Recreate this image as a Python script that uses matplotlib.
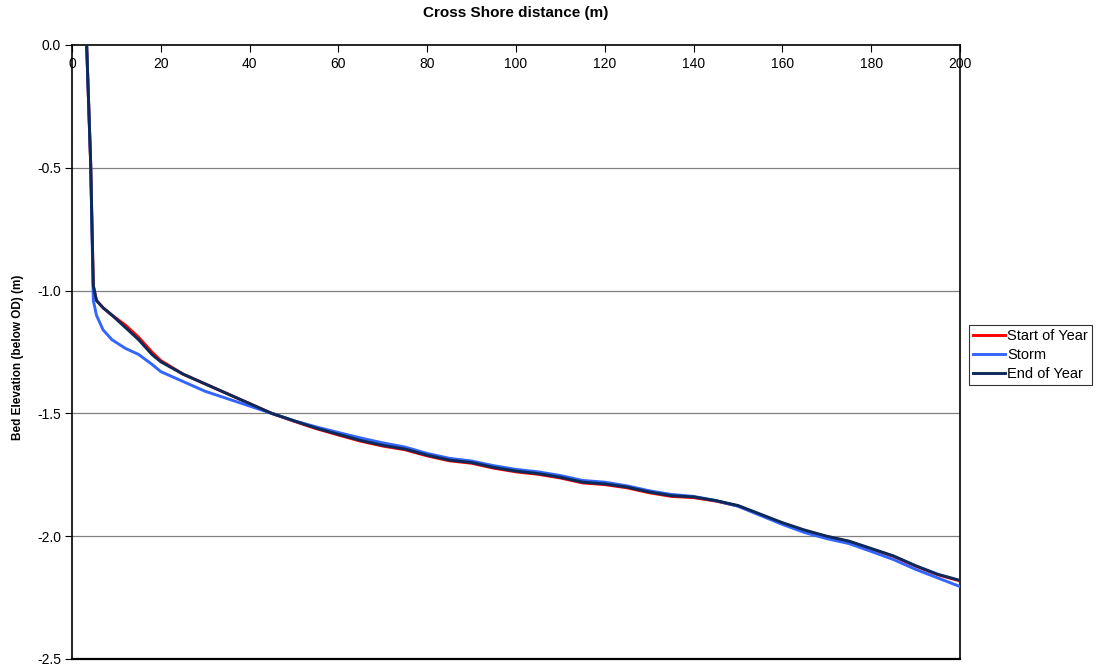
import matplotlib
matplotlib.use("Agg")
import matplotlib.pyplot as plt

plt.rcParams['font.family'] = ['Liberation Sans', 'DejaVu Sans']

# Cross-shore distance (m)
distance = [3.3, 4.2, 4.8, 5.5, 7, 9, 12, 15, 18, 20, 25, 30, 35, 40, 45, 50, 55,
            60, 65, 70, 75, 80, 85, 90, 95, 100, 105, 110, 115, 120, 125, 130,
            135, 140, 145, 150, 155, 160, 165, 170, 175, 180, 185, 190, 195, 200]

start_of_year = [0.0, -0.48, -0.98, -1.04, -1.07, -1.10, -1.14, -1.19, -1.25, -1.285,
                 -1.34, -1.38, -1.42, -1.46, -1.50, -1.532, -1.562, -1.588, -1.613,
                 -1.633, -1.648, -1.673, -1.693, -1.703, -1.723, -1.738, -1.748,
                 -1.763, -1.783, -1.790, -1.803, -1.823, -1.838, -1.843, -1.857,
                 -1.877, -1.912, -1.947, -1.977, -2.002, -2.022, -2.052, -2.082,
                 -2.122, -2.157, -2.182]

storm = [0.0, -0.48, -1.04, -1.10, -1.16, -1.20, -1.235, -1.26, -1.30, -1.33,
         -1.37, -1.41, -1.44, -1.47, -1.50, -1.53, -1.555, -1.578, -1.60, -1.62,
         -1.637, -1.663, -1.683, -1.694, -1.713, -1.728, -1.738, -1.753, -1.773,
         -1.780, -1.795, -1.815, -1.83, -1.838, -1.855, -1.878, -1.915, -1.952,
         -1.985, -2.01, -2.03, -2.062, -2.095, -2.135, -2.17, -2.205]

end_of_year = [0.0, -0.48, -0.98, -1.04, -1.07, -1.10, -1.15, -1.20, -1.26, -1.29,
               -1.34, -1.38, -1.42, -1.46, -1.50, -1.53, -1.56, -1.585, -1.61,
               -1.63, -1.645, -1.67, -1.69, -1.70, -1.72, -1.735, -1.745, -1.76,
               -1.78, -1.787, -1.80, -1.82, -1.835, -1.84, -1.855, -1.875, -1.91,
               -1.945, -1.975, -2.00, -2.02, -2.05, -2.08, -2.12, -2.155, -2.18]

x_ticks = [0, 20, 40, 60, 80, 100, 120, 140, 160, 180, 200]
y_ticks = [0.0, -0.5, -1.0, -1.5, -2.0, -2.5]

fig = plt.figure(figsize=(10.99, 6.68), dpi=100)
ax = fig.add_axes([72 / 1099, 1 - 659 / 668, (960 - 72) / 1099, (659 - 45) / 668])

ax.plot(distance, start_of_year, color='#FF0000', lw=2.1, label='Start of Year', zorder=3)
ax.plot(distance, storm, color='#3366FF', lw=2.1, label='Storm', zorder=4)
ax.plot(distance, end_of_year, color='#0B2A5A', lw=2.1, label='End of Year', zorder=5)

ax.set_xlim(0, 200)
ax.set_ylim(-2.5, 0.0)
ax.set_xticks(x_ticks)
ax.set_yticks(y_ticks)
ax.set_yticklabels([f"{v:.1f}" for v in y_ticks])
ax.set_xticklabels([str(v) for v in x_ticks])

# x axis drawn at y=0 (top), labels inside the plot
ax.spines['bottom'].set_position(('data', 0))
ax.spines['bottom'].set_linewidth(1.2)
ax.spines['top'].set_visible(False)
ax.spines['left'].set_linewidth(1.2)
ax.spines['right'].set_linewidth(1.2)
ax.axhline(-2.5, color='black', lw=1.6, zorder=6, clip_on=False)

ax.tick_params(axis='x', direction='out', length=5, width=0.8, labelsize=10, pad=4)
ax.tick_params(axis='y', direction='out', length=5, width=0.8, labelsize=10, pad=3)

for yv in [-0.5, -1.0, -1.5, -2.0]:
    ax.axhline(yv, color='#808080', lw=0.9, zorder=1)

fig.text(516 / 1099, 1 - 13 / 668, 'Cross Shore distance (m)', ha='center', va='center',
         fontsize=11, fontweight='bold')
fig.text(18 / 1099, 1 - 357 / 668, 'Bed Elevation (below OD) (m)', ha='center', va='center',
         rotation=90, fontsize=8.5, fontweight='bold')

leg = fig.legend(loc='center left', bbox_to_anchor=(969 / 1099, 1 - 355 / 668),
                 fontsize=10.5, frameon=True, fancybox=False, handlelength=2.2,
                 handletextpad=0.1, borderpad=0.3, labelspacing=0.35, borderaxespad=0)
leg.get_frame().set_edgecolor('black')
leg.get_frame().set_linewidth(0.8)

fig.savefig('out.png', dpi=100)
